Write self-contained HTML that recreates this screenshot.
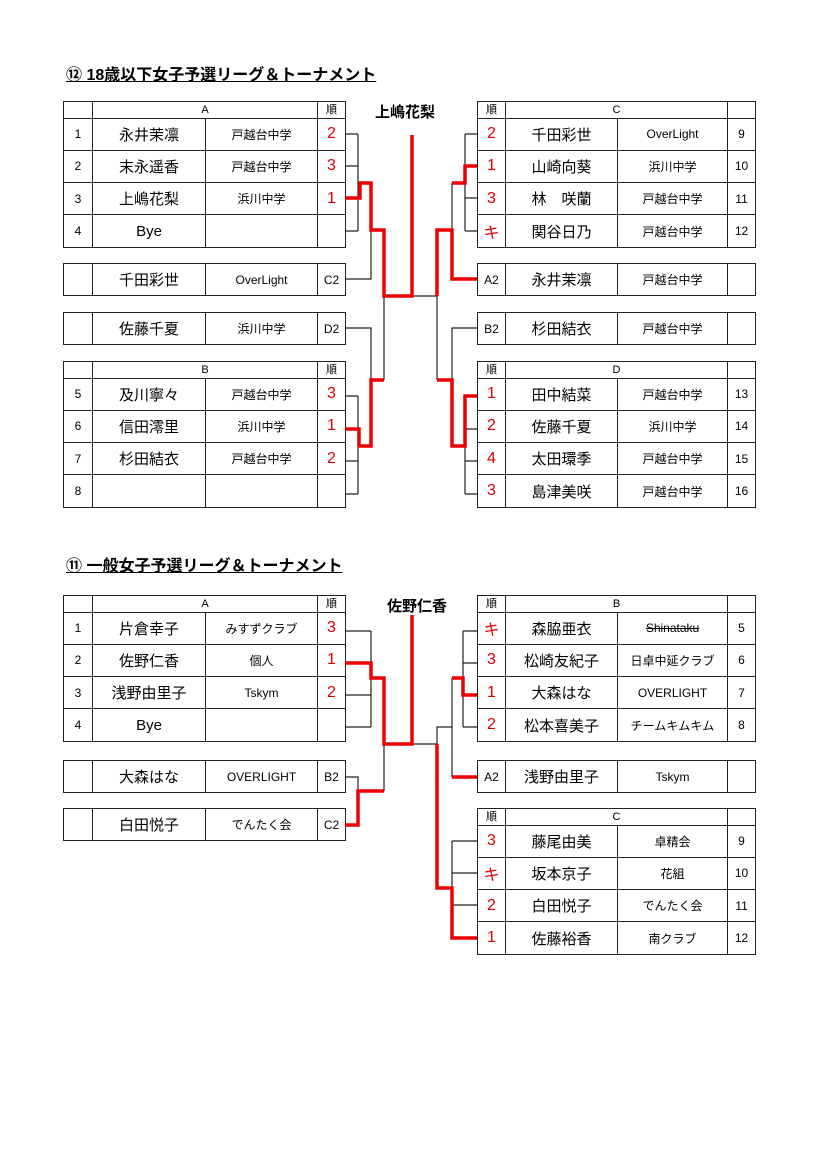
<!DOCTYPE html>
<html><head><meta charset="utf-8">
<style>
body{margin:0;width:827px;height:1170px;background:#fff;position:relative;overflow:hidden;font-family:"Liberation Sans","Noto Sans CJK JP",sans-serif;color:#000}
.t{position:absolute;border-collapse:collapse;table-layout:fixed}
.t td{border:1.3px solid #222;padding:0;text-align:center;font-size:12px;overflow:hidden;white-space:nowrap}
.h td{height:15.5px;font-size:11px;line-height:14px}
.r td{height:31.3px}
.n{font-size:15px!important}
.c{font-size:12px!important}
.k{color:#d00;font-size:16px!important}
.title{position:absolute;font-size:16px;font-weight:bold;text-decoration:underline;white-space:nowrap}
.win{position:absolute;font-size:15px;font-weight:bold;white-space:nowrap}
svg{position:absolute;left:0;top:0}
</style></head><body>
<div class="title" style="left:66px;top:61px">⑫ 18歳以下女子予選リーグ＆トーナメント</div>
<div class="win" style="left:375px;top:101px">上嶋花梨</div>

<table class="t" style="left:63px;top:101px;width:282px"><colgroup><col style="width:29px"><col style="width:113px"><col style="width:112px"><col style="width:28px"></colgroup>
<tr class="h"><td></td><td colspan="2">A</td><td>順</td></tr>
<tr class="r"><td>1</td><td class="n">永井茉凛</td><td class="c">戸越台中学</td><td class="k">2</td></tr>
<tr class="r"><td>2</td><td class="n">末永遥香</td><td class="c">戸越台中学</td><td class="k">3</td></tr>
<tr class="r"><td>3</td><td class="n">上嶋花梨</td><td class="c">浜川中学</td><td class="k">1</td></tr>
<tr class="r"><td>4</td><td class="n">Bye</td><td></td><td></td></tr></table>
<table class="t" style="left:63px;top:263px;width:282px"><colgroup><col style="width:29px"><col style="width:113px"><col style="width:112px"><col style="width:28px"></colgroup>
<tr class="r"><td></td><td class="n">千田彩世</td><td class="c">OverLight</td><td>C2</td></tr></table>
<table class="t" style="left:63px;top:312px;width:282px"><colgroup><col style="width:29px"><col style="width:113px"><col style="width:112px"><col style="width:28px"></colgroup>
<tr class="r"><td></td><td class="n">佐藤千夏</td><td class="c">浜川中学</td><td>D2</td></tr></table>
<table class="t" style="left:63px;top:361px;width:282px"><colgroup><col style="width:29px"><col style="width:113px"><col style="width:112px"><col style="width:28px"></colgroup>
<tr class="h"><td></td><td colspan="2">B</td><td>順</td></tr>
<tr class="r"><td>5</td><td class="n">及川寧々</td><td class="c">戸越台中学</td><td class="k">3</td></tr>
<tr class="r"><td>6</td><td class="n">信田澪里</td><td class="c">浜川中学</td><td class="k">1</td></tr>
<tr class="r"><td>7</td><td class="n">杉田結衣</td><td class="c">戸越台中学</td><td class="k">2</td></tr>
<tr class="r"><td>8</td><td></td><td></td><td></td></tr></table>

<table class="t" style="left:477px;top:101px;width:278px"><colgroup><col style="width:28px"><col style="width:112px"><col style="width:110px"><col style="width:28px"></colgroup>
<tr class="h"><td>順</td><td colspan="2">C</td><td></td></tr>
<tr class="r"><td class="k">2</td><td class="n">千田彩世</td><td class="c">OverLight</td><td>9</td></tr>
<tr class="r"><td class="k">1</td><td class="n">山崎向葵</td><td class="c">浜川中学</td><td>10</td></tr>
<tr class="r"><td class="k">3</td><td class="n">林　咲蘭</td><td class="c">戸越台中学</td><td>11</td></tr>
<tr class="r"><td class="k">キ</td><td class="n">関谷日乃</td><td class="c">戸越台中学</td><td>12</td></tr></table>
<table class="t" style="left:477px;top:263px;width:278px"><colgroup><col style="width:28px"><col style="width:112px"><col style="width:110px"><col style="width:28px"></colgroup>
<tr class="r"><td>A2</td><td class="n">永井茉凛</td><td class="c">戸越台中学</td><td></td></tr></table>
<table class="t" style="left:477px;top:312px;width:278px"><colgroup><col style="width:28px"><col style="width:112px"><col style="width:110px"><col style="width:28px"></colgroup>
<tr class="r"><td>B2</td><td class="n">杉田結衣</td><td class="c">戸越台中学</td><td></td></tr></table>
<table class="t" style="left:477px;top:361px;width:278px"><colgroup><col style="width:28px"><col style="width:112px"><col style="width:110px"><col style="width:28px"></colgroup>
<tr class="h"><td>順</td><td colspan="2">D</td><td></td></tr>
<tr class="r"><td class="k">1</td><td class="n">田中結菜</td><td class="c">戸越台中学</td><td>13</td></tr>
<tr class="r"><td class="k">2</td><td class="n">佐藤千夏</td><td class="c">浜川中学</td><td>14</td></tr>
<tr class="r"><td class="k">4</td><td class="n">太田環季</td><td class="c">戸越台中学</td><td>15</td></tr>
<tr class="r"><td class="k">3</td><td class="n">島津美咲</td><td class="c">戸越台中学</td><td>16</td></tr></table>

<div class="title" style="left:66px;top:552px">⑪ 一般女子予選リーグ＆トーナメント</div>
<div class="win" style="left:387px;top:595px">佐野仁香</div>

<table class="t" style="left:63px;top:595px;width:282px"><colgroup><col style="width:29px"><col style="width:113px"><col style="width:112px"><col style="width:28px"></colgroup>
<tr class="h"><td></td><td colspan="2">A</td><td>順</td></tr>
<tr class="r"><td>1</td><td class="n">片倉幸子</td><td class="c">みすずクラブ</td><td class="k">3</td></tr>
<tr class="r"><td>2</td><td class="n">佐野仁香</td><td class="c">個人</td><td class="k">1</td></tr>
<tr class="r"><td>3</td><td class="n">浅野由里子</td><td class="c">Tskym</td><td class="k">2</td></tr>
<tr class="r"><td>4</td><td class="n">Bye</td><td></td><td></td></tr></table>
<table class="t" style="left:63px;top:760px;width:282px"><colgroup><col style="width:29px"><col style="width:113px"><col style="width:112px"><col style="width:28px"></colgroup>
<tr class="r"><td></td><td class="n">大森はな</td><td class="c">OVERLIGHT</td><td>B2</td></tr></table>
<table class="t" style="left:63px;top:808px;width:282px"><colgroup><col style="width:29px"><col style="width:113px"><col style="width:112px"><col style="width:28px"></colgroup>
<tr class="r"><td></td><td class="n">白田悦子</td><td class="c">でんたく会</td><td>C2</td></tr></table>

<table class="t" style="left:477px;top:595px;width:278px"><colgroup><col style="width:28px"><col style="width:112px"><col style="width:110px"><col style="width:28px"></colgroup>
<tr class="h"><td>順</td><td colspan="2">B</td><td></td></tr>
<tr class="r"><td class="k">キ</td><td class="n">森脇亜衣</td><td class="c" style="text-decoration:line-through">Shinataku</td><td>5</td></tr>
<tr class="r"><td class="k">3</td><td class="n">松崎友紀子</td><td class="c">日卓中延クラブ</td><td>6</td></tr>
<tr class="r"><td class="k">1</td><td class="n">大森はな</td><td class="c">OVERLIGHT</td><td>7</td></tr>
<tr class="r"><td class="k">2</td><td class="n">松本喜美子</td><td class="c">チームキムキム</td><td>8</td></tr></table>
<table class="t" style="left:477px;top:760px;width:278px"><colgroup><col style="width:28px"><col style="width:112px"><col style="width:110px"><col style="width:28px"></colgroup>
<tr class="r"><td>A2</td><td class="n">浅野由里子</td><td class="c">Tskym</td><td></td></tr></table>
<table class="t" style="left:477px;top:808px;width:278px"><colgroup><col style="width:28px"><col style="width:112px"><col style="width:110px"><col style="width:28px"></colgroup>
<tr class="h"><td>順</td><td colspan="2">C</td><td></td></tr>
<tr class="r"><td class="k">3</td><td class="n">藤尾由美</td><td class="c">卓精会</td><td>9</td></tr>
<tr class="r"><td class="k">キ</td><td class="n">坂本京子</td><td class="c">花組</td><td>10</td></tr>
<tr class="r"><td class="k">2</td><td class="n">白田悦子</td><td class="c">でんたく会</td><td>11</td></tr>
<tr class="r"><td class="k">1</td><td class="n">佐藤裕香</td><td class="c">南クラブ</td><td>12</td></tr></table>

<svg width="827" height="1170" viewBox="0 0 827 1170">
<g fill="none" stroke="#222" stroke-width="1.2">
<!-- top left -->
<path d="M345 134H358M345 166H358M345 198H358M345 231H358M358 134V231"/>
<path d="M345 279H371V230M345 328H371V380M384 296V380"/>
<path d="M345 396H358M345 429H358M345 461H358M345 494H358M358 396V494"/>
<path d="M412 296H437"/>
<!-- top right -->
<path d="M477 134H465M477 166H465M477 198H465M477 231H465M465 134V231M452 183V230"/>
<path d="M437 296V380M477 328H452V380"/>
<path d="M477 396H465M477 429H465M477 461H465M477 494H465M465 396V494"/>
<!-- bottom left -->
<path d="M345 631H371M345 663H371M345 695H371M345 727H371M371 631V727"/>
<path d="M345 777H358V791M384 744V791M412 744H437"/>
<!-- bottom right -->
<path d="M477 631H463M477 663H463M477 695H463M477 727H463M463 631V727"/>
<path d="M437 744V727H452M452 678V777"/>
<path d="M452 841V938M452 841H477M452 873H477M452 905H477"/>
</g>
<g fill="none" stroke="#e00" stroke-width="3.5" stroke-linejoin="miter">
<path d="M345 198H360V183H371V230H384V296H412V135"/>
<path d="M345 429H359V446H371V380H384"/>
<path d="M437 296V230H452V279H477"/>
<path d="M477 166H465V183H452"/>
<path d="M437 380H452V446H465V396H477"/>
<path d="M345 663H371V678H384V744H412V615"/>
<path d="M345 825H358V791H384"/>
<path d="M477 695H463V678H452"/>
<path d="M477 777H452"/>
<path d="M437 744V888H452V938H477"/>
</g>
</svg>
</body></html>
